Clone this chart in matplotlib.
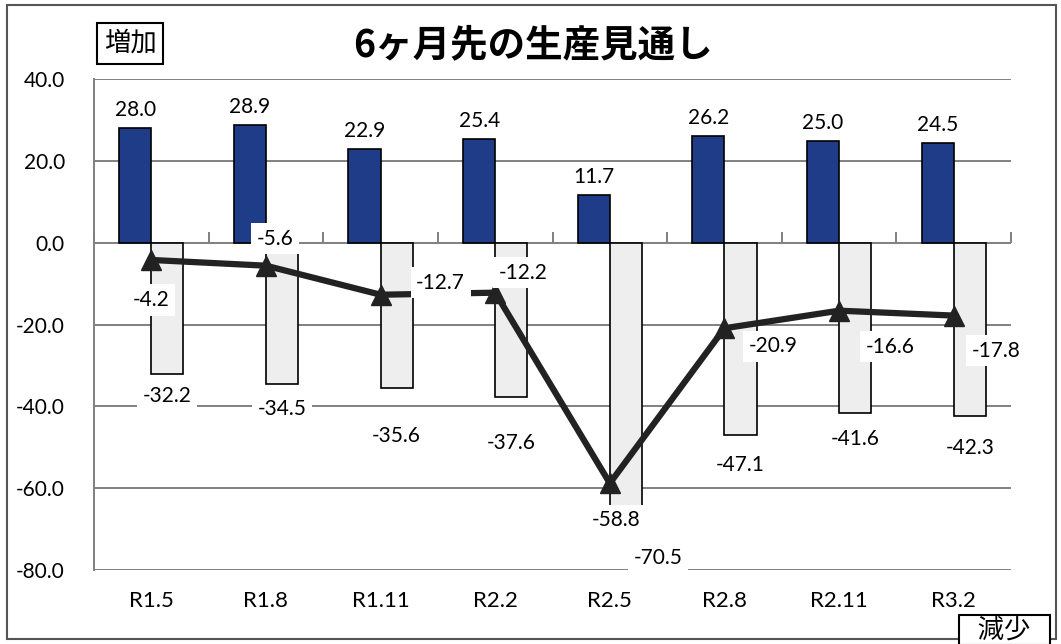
import numpy as np
import matplotlib
matplotlib.use("Agg")
import matplotlib.pyplot as plt
from matplotlib.patches import Rectangle

plt.rcParams['font.family'] = ['Lato', 'Noto Sans CJK JP', 'DejaVu Sans']

# データ
categories = ["R1.5", "R1.8", "R1.11", "R2.2", "R2.5", "R2.8", "R2.11", "R3.2"]
zouka = [28.0, 28.9, 22.9, 25.4, 11.7, 26.2, 25.0, 24.5]
genshou = [-32.2, -34.5, -35.6, -37.6, -70.5, -47.1, -41.6, -42.3]
di = [-4.2, -5.6, -12.7, -12.2, -58.8, -20.9, -16.6, -17.8]

# ラベルの位置調整 (pixels)
di_off = [(0, -40), (9, 27), (60, 12), (28, 20), (6, -37), (49, -18), (51, -36), (42, -35)]
gen_off = [(0, -22), (0, -25), (0, -48), (0, -46), (32, -27), (0, -30), (0, -26), (0, -32)]

fig = plt.figure(figsize=(10.61, 6.44), dpi=100)
ax = fig.add_axes([0.0886, 0.115, 0.8643, 0.762])

x = np.arange(len(categories))
w = 0.28
fs = 15

ax.bar(x - w / 2, zouka, w, color='#1f3c88', edgecolor='black', linewidth=1.2, zorder=2)
ax.bar(x + w / 2, genshou, w, color='#eeeeee', edgecolor='black', linewidth=1.2, zorder=2)
ax.plot(x, di, color='#222222', linewidth=4.5, marker='^', markersize=14, zorder=3)

box = dict(facecolor='white', edgecolor='none', pad=4)
for i in range(len(x)):
    ax.annotate(f"{zouka[i]:.1f}", (x[i] - w / 2, zouka[i]), xytext=(0, 8),
                textcoords='offset pixels', ha='center', va='bottom', fontsize=fs, zorder=4)
    ax.annotate(f"{genshou[i]:.1f}", (x[i] + w / 2, genshou[i]), xytext=gen_off[i],
                textcoords='offset pixels', ha='center', va='center', fontsize=fs,
                bbox=box, zorder=5)
    ax.annotate(f"{di[i]:.1f}", (x[i], di[i]), xytext=di_off[i],
                textcoords='offset pixels', ha='center', va='center', fontsize=fs,
                bbox=box, zorder=5)

ax.set_xlim(-0.5, len(x) - 0.5)
ax.set_ylim(-80, 40)
ax.set_yticks(np.arange(-80, 41, 20))
ax.set_yticklabels([f"{v:.1f}" for v in np.arange(-80, 41, 20)])
ax.set_xticks(x)
ax.set_xticklabels(categories)
ax.tick_params(axis='both', length=0, labelsize=fs)
ax.tick_params(axis='x', pad=15, labelsize=16)
ax.tick_params(axis='y', pad=21)
ax.grid(axis='y', color='#808080', linewidth=1.4, zorder=0)
ax.set_axisbelow(True)
for s in ['top', 'right', 'bottom']:
    ax.spines[s].set_visible(False)
ax.spines['left'].set_color('#808080')
ax.spines['left'].set_linewidth(1.4)

# 0のところに区切りの目盛り
sec = ax.secondary_xaxis(2 / 3)
sec.set_xticks(np.arange(-0.5, len(x), 1))
sec.tick_params(direction='out', length=8, width=1.4, color='#808080', labelbottom=False, labeltop=False)
sec.spines['bottom'].set_visible(False)
sec.spines['top'].set_visible(False)

fig.text(0.502, 0.93, "6ヶ月先の生産見通し", ha='center', va='center', fontsize=27,
         fontweight='bold', family=['Noto Sans CJK JP', 'DejaVu Sans'])
fig.text(0.1225, 0.933, "増加", ha='center', va='center', fontsize=19,
         family=['Noto Sans CJK JP'],
         bbox=dict(facecolor='white', edgecolor='black', linewidth=1.5, pad=5))
fig.text(0.9465, 0.022, "   減少   ", ha='center', va='center', fontsize=19,
         family=['Noto Sans CJK JP', 'DejaVu Sans'],
         bbox=dict(facecolor='white', edgecolor='black', linewidth=1.5, pad=1))

fig.patches.append(Rectangle((0.007, 0.008), 0.988, 0.984, transform=fig.transFigure,
                             fill=False, edgecolor='#555555', linewidth=1.5))

fig.savefig("out.png", dpi=100)
